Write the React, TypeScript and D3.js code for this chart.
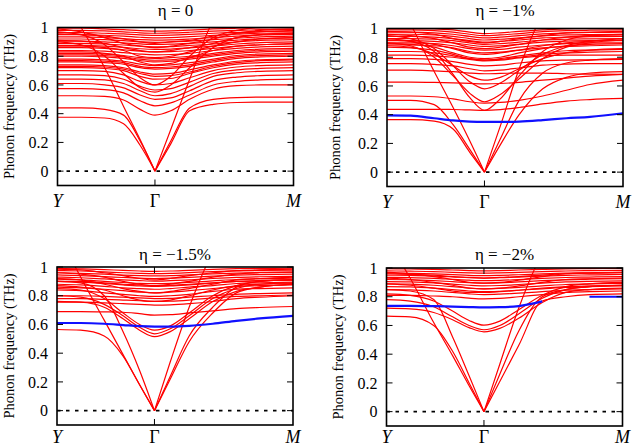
import React from "react";
import * as d3 from "d3";

// k-path sample points (Y = 0, Γ = 0.413, M = 1)
const K = [0, 0.1, 0.2, 0.28, 0.35, 0.413, 0.48, 0.56, 0.66, 0.76, 0.86, 1];
const GAMMA_INDEX = 5;
const X_LABELS = ["Y", "Γ", "M"];
const X_LABEL_K = [0, 0.413, 1];
const Y_TICKS = [0, 0.2, 0.4, 0.6, 0.8, 1];
const TITLES = ["η = 0", "η = −1%", "η = −1.5%", "η = −2%"];
const Y_TITLE = "Phonon frequency (THz)";

const BANDS_0: number[][] = [
  [0.375, 0.375, 0.37, 0.33, 0.18, 0, 0.19, 0.42, 0.465, 0.478, 0.48, 0.48],
  [0.44, 0.44, 0.43, 0.39, 0.21, 0, 0.21, 0.44, 0.5, 0.512, 0.515, 0.515],
  [1.3, 1.0, 0.72, 0.45, 0.22, 0, 0.29, 0.64, 1.05, 1.2, 1.3, 1.4],
  [0.525, 0.525, 0.52, 0.495, 0.43, 0.39, 0.42, 0.5, 0.57, 0.595, 0.6, 0.6],
  [0.575, 0.575, 0.568, 0.545, 0.49, 0.455, 0.475, 0.53, 0.6, 0.625, 0.635, 0.64],
  [0.61, 0.61, 0.6, 0.58, 0.53, 0.5, 0.51, 0.56, 0.63, 0.655, 0.665, 0.67],
  [0.64, 0.64, 0.635, 0.61, 0.56, 0.525, 0.54, 0.59, 0.66, 0.685, 0.695, 0.7],
  [0.67, 0.67, 0.665, 0.64, 0.59, 0.565, 0.575, 0.62, 0.68, 0.705, 0.715, 0.72],
  [0.7, 0.7, 0.695, 0.67, 0.625, 0.6, 0.61, 0.65, 0.7, 0.725, 0.735, 0.74],
  [0.72, 0.72, 0.715, 0.7, 0.66, 0.64, 0.645, 0.68, 0.72, 0.745, 0.755, 0.76],
  [0.73, 0.73, 0.725, 0.71, 0.68, 0.66, 0.665, 0.69, 0.73, 0.755, 0.77, 0.775],
  [0.74, 0.74, 0.735, 0.72, 0.69, 0.675, 0.68, 0.705, 0.74, 0.765, 0.775, 0.78],
  [0.76, 0.76, 0.755, 0.745, 0.72, 0.71, 0.715, 0.73, 0.76, 0.785, 0.795, 0.8],
  [0.77, 0.77, 0.765, 0.755, 0.73, 0.72, 0.725, 0.74, 0.77, 0.795, 0.805, 0.81],
  [0.78, 0.78, 0.775, 0.765, 0.745, 0.735, 0.74, 0.755, 0.78, 0.805, 0.815, 0.82],
  [0.8, 0.8, 0.795, 0.785, 0.77, 0.76, 0.765, 0.78, 0.8, 0.82, 0.83, 0.835],
  [0.81, 0.81, 0.805, 0.795, 0.78, 0.772, 0.775, 0.79, 0.81, 0.83, 0.84, 0.845],
  [0.82, 0.82, 0.815, 0.805, 0.79, 0.785, 0.79, 0.8, 0.82, 0.84, 0.85, 0.855],
  [0.83, 0.83, 0.82, 0.8, 0.76, 0.74, 0.75, 0.79, 0.84, 0.87, 0.88, 0.89],
  [0.84, 0.84, 0.835, 0.825, 0.815, 0.81, 0.812, 0.82, 0.84, 0.855, 0.865, 0.87],
  [0.86, 0.86, 0.855, 0.845, 0.835, 0.83, 0.832, 0.84, 0.855, 0.87, 0.88, 0.885],
  [0.87, 0.87, 0.86, 0.84, 0.8, 0.79, 0.8, 0.83, 0.87, 0.9, 0.92, 0.93],
  [0.875, 0.875, 0.87, 0.862, 0.852, 0.848, 0.85, 0.858, 0.87, 0.885, 0.895, 0.9],
  [0.89, 0.89, 0.885, 0.878, 0.87, 0.865, 0.867, 0.875, 0.885, 0.9, 0.91, 0.915],
  [0.905, 0.905, 0.9, 0.893, 0.886, 0.882, 0.884, 0.89, 0.9, 0.912, 0.922, 0.928],
  [0.91, 0.905, 0.89, 0.86, 0.84, 0.83, 0.84, 0.86, 0.89, 0.93, 0.95, 0.96],
  [0.92, 0.92, 0.915, 0.908, 0.9, 0.897, 0.9, 0.905, 0.915, 0.925, 0.935, 0.94],
  [0.935, 0.935, 0.93, 0.923, 0.915, 0.912, 0.914, 0.92, 0.93, 0.94, 0.948, 0.952],
  [0.95, 0.95, 0.946, 0.94, 0.932, 0.928, 0.93, 0.936, 0.945, 0.953, 0.96, 0.963],
  [0.955, 0.95, 0.94, 0.92, 0.9, 0.89, 0.9, 0.91, 0.94, 0.96, 0.97, 0.98],
  [0.965, 0.965, 0.96, 0.955, 0.948, 0.945, 0.947, 0.952, 0.96, 0.966, 0.972, 0.975],
  [0.98, 0.98, 0.976, 0.97, 0.963, 0.96, 0.962, 0.967, 0.975, 0.98, 0.985, 0.987],
  [0.99, 0.97, 0.93, 0.89, 0.87, 0.86, 0.87, 0.89, 0.92, 0.96, 0.98, 0.99],
  [0.995, 0.995, 0.99, 0.985, 0.978, 0.975, 0.977, 0.982, 0.99, 0.995, 0.998, 1.0],
  [0.9, 0.88, 0.8, 0.68, 0.58, 0.55, 0.6, 0.72, 0.86, 0.93, 0.95, 0.96],
  [0.97, 0.95, 0.88, 0.76, 0.65, 0.6, 0.66, 0.8, 0.93, 0.98, 1.0, 1.0],
];
const BLUE_0: (number | null)[] | null = null;

const BANDS_1: number[][] = [
  [0.365, 0.365, 0.355, 0.3, 0.14, 0, 0.19, 0.4, 0.58, 0.66, 0.69, 0.7],
  [0.5, 0.5, 0.47, 0.33, 0.16, 0, 0.23, 0.5, 0.69, 0.76, 0.78, 0.79],
  [1.3, 1.03, 0.7, 0.45, 0.22, 0, 0.32, 0.72, 1.1, 1.3, 1.4, 1.5],
  [0.437, 0.437, 0.437, 0.436, 0.433, 0.43, 0.435, 0.45, 0.475, 0.495, 0.505, 0.513],
  [0.53, 0.53, 0.525, 0.51, 0.49, 0.48, 0.485, 0.5, 0.53, 0.57, 0.61, 0.64],
  [0.627, 0.627, 0.625, 0.622, 0.618, 0.615, 0.617, 0.625, 0.64, 0.655, 0.668, 0.68],
  [0.93, 0.91, 0.84, 0.68, 0.52, 0.43, 0.51, 0.67, 0.84, 0.92, 0.95, 0.96],
  [0.9, 0.88, 0.8, 0.67, 0.55, 0.49, 0.54, 0.65, 0.79, 0.87, 0.9, 0.92],
  [0.95, 0.93, 0.86, 0.74, 0.63, 0.58, 0.62, 0.71, 0.82, 0.88, 0.91, 0.93],
  [0.88, 0.87, 0.82, 0.74, 0.67, 0.64, 0.66, 0.72, 0.79, 0.83, 0.85, 0.86],
  [0.71, 0.71, 0.705, 0.7, 0.69, 0.685, 0.687, 0.69, 0.69, 0.685, 0.682, 0.68],
  [0.755, 0.755, 0.75, 0.74, 0.72, 0.705, 0.71, 0.725, 0.745, 0.752, 0.755, 0.755],
  [0.79, 0.79, 0.785, 0.77, 0.75, 0.74, 0.745, 0.76, 0.775, 0.78, 0.782, 0.785],
  [0.815, 0.815, 0.81, 0.8, 0.785, 0.775, 0.78, 0.795, 0.81, 0.815, 0.815, 0.815],
  [0.84, 0.84, 0.83, 0.81, 0.79, 0.78, 0.785, 0.8, 0.82, 0.83, 0.835, 0.84],
  [0.87, 0.865, 0.85, 0.82, 0.79, 0.78, 0.79, 0.81, 0.83, 0.845, 0.85, 0.855],
  [0.885, 0.885, 0.88, 0.865, 0.84, 0.83, 0.835, 0.85, 0.865, 0.875, 0.88, 0.885],
  [0.895, 0.89, 0.87, 0.83, 0.8, 0.79, 0.8, 0.83, 0.86, 0.88, 0.89, 0.895],
  [0.9, 0.9, 0.895, 0.88, 0.86, 0.85, 0.855, 0.87, 0.885, 0.895, 0.9, 0.9],
  [0.915, 0.915, 0.91, 0.9, 0.885, 0.875, 0.88, 0.89, 0.905, 0.912, 0.915, 0.915],
  [0.92, 0.91, 0.89, 0.86, 0.83, 0.82, 0.83, 0.85, 0.88, 0.9, 0.91, 0.92],
  [0.93, 0.93, 0.925, 0.915, 0.9, 0.89, 0.895, 0.905, 0.92, 0.925, 0.928, 0.93],
  [0.945, 0.945, 0.94, 0.93, 0.915, 0.905, 0.91, 0.92, 0.935, 0.94, 0.943, 0.945],
  [0.96, 0.95, 0.93, 0.9, 0.87, 0.86, 0.87, 0.89, 0.92, 0.94, 0.95, 0.955],
  [0.96, 0.96, 0.955, 0.945, 0.93, 0.92, 0.925, 0.935, 0.948, 0.955, 0.958, 0.96],
  [0.975, 0.975, 0.97, 0.96, 0.945, 0.935, 0.94, 0.95, 0.962, 0.97, 0.972, 0.975],
  [0.98, 0.975, 0.96, 0.93, 0.91, 0.9, 0.91, 0.93, 0.95, 0.97, 0.975, 0.98],
  [0.99, 0.99, 0.985, 0.975, 0.96, 0.95, 0.955, 0.965, 0.978, 0.985, 0.988, 0.99],
  [1.0, 1.0, 0.998, 0.99, 0.975, 0.965, 0.97, 0.98, 0.99, 0.998, 1.0, 1.0],
];
const BLUE_1: (number | null)[] = [0.395, 0.393, 0.375, 0.36, 0.352, 0.35, 0.35, 0.352, 0.362, 0.375, 0.385, 0.41];

const BANDS_2: number[][] = [
  [0.565, 0.56, 0.52, 0.38, 0.18, 0, 0.22, 0.48, 0.68, 0.82, 0.86, 0.88],
  [0.9, 0.89, 0.8, 0.55, 0.28, 0, 0.24, 0.52, 0.72, 0.86, 0.9, 0.91],
  [1.25, 0.93, 0.63, 0.39, 0.18, 0, 0.34, 0.72, 1.1, 1.3, 1.4, 1.5],
  [0.69, 0.69, 0.688, 0.685, 0.675, 0.665, 0.668, 0.68, 0.695, 0.71, 0.718, 0.725],
  [0.76, 0.755, 0.72, 0.64, 0.56, 0.515, 0.55, 0.64, 0.76, 0.83, 0.86, 0.88],
  [0.8, 0.79, 0.74, 0.66, 0.58, 0.535, 0.57, 0.66, 0.78, 0.85, 0.88, 0.89],
  [0.85, 0.84, 0.78, 0.68, 0.6, 0.56, 0.59, 0.68, 0.8, 0.87, 0.9, 0.91],
  [0.755, 0.755, 0.75, 0.745, 0.74, 0.735, 0.737, 0.745, 0.76, 0.78, 0.79, 0.8],
  [0.78, 0.78, 0.775, 0.77, 0.765, 0.76, 0.762, 0.77, 0.785, 0.795, 0.8, 0.805],
  [0.8, 0.8, 0.795, 0.79, 0.785, 0.78, 0.782, 0.79, 0.8, 0.81, 0.815, 0.82],
  [0.84, 0.835, 0.82, 0.81, 0.8, 0.795, 0.8, 0.81, 0.83, 0.845, 0.85, 0.855],
  [0.86, 0.855, 0.845, 0.835, 0.825, 0.82, 0.825, 0.835, 0.85, 0.865, 0.87, 0.875],
  [0.87, 0.86, 0.84, 0.8, 0.77, 0.76, 0.77, 0.8, 0.84, 0.87, 0.88, 0.885],
  [0.88, 0.875, 0.865, 0.855, 0.85, 0.845, 0.85, 0.86, 0.87, 0.885, 0.89, 0.895],
  [0.9, 0.895, 0.885, 0.875, 0.868, 0.865, 0.868, 0.876, 0.888, 0.9, 0.905, 0.91],
  [0.9, 0.9, 0.89, 0.88, 0.875, 0.87, 0.872, 0.88, 0.89, 0.9, 0.905, 0.91],
  [0.915, 0.91, 0.9, 0.892, 0.886, 0.884, 0.886, 0.893, 0.903, 0.913, 0.918, 0.922],
  [0.92, 0.91, 0.88, 0.85, 0.83, 0.82, 0.83, 0.85, 0.88, 0.91, 0.92, 0.93],
  [0.93, 0.925, 0.917, 0.91, 0.905, 0.902, 0.905, 0.91, 0.92, 0.928, 0.932, 0.935],
  [0.945, 0.94, 0.933, 0.927, 0.922, 0.92, 0.922, 0.928, 0.936, 0.943, 0.947, 0.95],
  [0.96, 0.95, 0.93, 0.9, 0.88, 0.87, 0.88, 0.9, 0.93, 0.95, 0.96, 0.965],
  [0.96, 0.956, 0.95, 0.944, 0.94, 0.938, 0.94, 0.945, 0.952, 0.958, 0.962, 0.965],
  [0.975, 0.972, 0.966, 0.96, 0.956, 0.954, 0.956, 0.961, 0.968, 0.973, 0.976, 0.978],
  [0.985, 0.98, 0.96, 0.94, 0.92, 0.91, 0.92, 0.94, 0.96, 0.975, 0.98, 0.985],
  [0.99, 0.987, 0.982, 0.976, 0.972, 0.97, 0.972, 0.977, 0.983, 0.988, 0.99, 0.992],
];
const BLUE_2: (number | null)[] = [0.61, 0.61, 0.605, 0.596, 0.588, 0.585, 0.585, 0.59, 0.605, 0.625, 0.642, 0.66];

const BANDS_3: number[][] = [
  [0.665, 0.66, 0.6, 0.42, 0.2, 0, 0.21, 0.46, 0.77, 0.8, 0.815, 0.82],
  [0.85, 0.84, 0.78, 0.52, 0.25, 0, 0.26, 0.56, 0.8, 0.85, 0.87, 0.88],
  [1.2, 0.93, 0.62, 0.39, 0.18, 0, 0.33, 0.72, 1.1, 1.3, 1.4, 1.5],
  [0.72, 0.715, 0.69, 0.64, 0.585, 0.556, 0.58, 0.65, 0.76, 0.83, 0.85, 0.86],
  [0.78, 0.77, 0.73, 0.66, 0.6, 0.57, 0.6, 0.68, 0.79, 0.85, 0.87, 0.88],
  [0.82, 0.81, 0.77, 0.7, 0.635, 0.602, 0.63, 0.71, 0.81, 0.87, 0.89, 0.9],
  [0.81, 0.81, 0.805, 0.8, 0.79, 0.785, 0.788, 0.8, 0.815, 0.83, 0.835, 0.84],
  [0.85, 0.848, 0.84, 0.83, 0.82, 0.815, 0.818, 0.825, 0.835, 0.845, 0.85, 0.855],
  [0.87, 0.868, 0.86, 0.85, 0.84, 0.835, 0.838, 0.845, 0.855, 0.865, 0.87, 0.875],
  [0.89, 0.88, 0.86, 0.84, 0.83, 0.83, 0.835, 0.845, 0.86, 0.87, 0.875, 0.88],
  [0.89, 0.888, 0.88, 0.87, 0.86, 0.855, 0.858, 0.865, 0.875, 0.885, 0.89, 0.893],
  [0.905, 0.903, 0.897, 0.888, 0.88, 0.876, 0.878, 0.885, 0.895, 0.903, 0.907, 0.91],
  [0.92, 0.918, 0.912, 0.905, 0.898, 0.895, 0.897, 0.903, 0.912, 0.918, 0.922, 0.925],
  [0.93, 0.92, 0.9, 0.88, 0.86, 0.855, 0.86, 0.875, 0.9, 0.92, 0.925, 0.93],
  [0.935, 0.933, 0.928, 0.921, 0.915, 0.912, 0.914, 0.92, 0.928, 0.934, 0.937, 0.94],
  [0.95, 0.948, 0.944, 0.938, 0.932, 0.93, 0.932, 0.937, 0.944, 0.949, 0.952, 0.955],
  [0.96, 0.955, 0.95, 0.94, 0.935, 0.93, 0.935, 0.94, 0.95, 0.96, 0.965, 0.967],
  [0.965, 0.963, 0.959, 0.954, 0.949, 0.947, 0.949, 0.953, 0.959, 0.964, 0.967, 0.97],
  [0.97, 0.96, 0.94, 0.92, 0.9, 0.895, 0.9, 0.915, 0.94, 0.96, 0.965, 0.97],
  [0.98, 0.978, 0.975, 0.97, 0.966, 0.964, 0.966, 0.97, 0.975, 0.979, 0.982, 0.984],
  [0.995, 0.993, 0.99, 0.986, 0.982, 0.98, 0.982, 0.986, 0.99, 0.994, 0.996, 0.998],
];
const BLUE_3: (number | null)[] = [0.736, 0.736, 0.734, 0.731, 0.728, 0.726, 0.727, 0.735, 0.768, null, 0.8, 0.8];

const PANEL_BANDS = [BANDS_0, BANDS_1, BANDS_2, BANDS_3];
const PANEL_BLUE = [BLUE_0, BLUE_1, BLUE_2, BLUE_3];

// layout (pixels)
const W = 236;
const H = 158;
const LAYOUT = [
  { left: 57.5, top: 27.5, titleY: 16, yTitleX: 8.5, labelY: 207 },
  { left: 387, top: 28.5, titleY: 16, yTitleX: 334.5, labelY: 208 },
  { left: 57, top: 267, titleY: 259.5, yTitleX: 9, labelY: 443 },
  { left: 386.5, top: 268, titleY: 259.5, yTitleX: 338, labelY: 443 },
];
const FONT = "Liberation Serif, DejaVu Serif, serif";

type Pt = [number, number | null];

function Panel({ idx }: { idx: number }) {
  const L = LAYOUT[idx];
  const bands = PANEL_BANDS[idx];
  const blue = PANEL_BLUE[idx];
  const x = d3.scaleLinear().domain([0, 1]).range([L.left, L.left + W]);
  const y = d3.scaleLinear().domain([-0.1, 1]).range([L.top + H, L.top]);
  const line = d3
    .line<Pt>()
    .defined((d) => d[1] != null)
    .x((d) => x(d[0]))
    .y((d) => y(d[1] as number))
    .curve(d3.curveMonotoneX);

  const redPaths: string[] = [];
  bands.forEach((b) => {
    const pts: Pt[] = K.map((k, i) => [k, b[i]]);
    if (b[GAMMA_INDEX] === 0) {
      redPaths.push(line(pts.slice(0, GAMMA_INDEX + 1)) || "");
      redPaths.push(line(pts.slice(GAMMA_INDEX)) || "");
    } else {
      redPaths.push(line(pts) || "");
    }
  });
  const bluePath = blue ? line(K.map((k, i) => [k, blue[i]] as Pt)) || "" : "";
  const clipId = `clip-${idx}`;
  const x0 = L.left;
  const x1 = L.left + W;
  const yTop = L.top;
  const yBot = L.top + H;
  const gx = x(X_LABEL_K[1]);

  return (
    <g>
      <defs>
        <clipPath id={clipId}>
          <rect x={x0} y={yTop} width={W} height={H} />
        </clipPath>
      </defs>
      <g clipPath={`url(#${clipId})`}>
        {redPaths.map((d, i) => (
          <path key={i} d={d} fill="none" stroke="#ff0000" strokeWidth={1.2} />
        ))}
        {bluePath && <path d={bluePath} fill="none" stroke="#1010ff" strokeWidth={2.2} />}
        <line x1={x0} x2={x1} y1={y(0)} y2={y(0)} stroke="#000" strokeWidth={1.6} strokeDasharray="3.5,5.5" />
      </g>
      {Y_TICKS.map((t) => (
        <g key={t}>
          <line x1={x0} x2={x0 + 6} y1={y(t)} y2={y(t)} stroke="#000" strokeWidth={1} />
          <line x1={x1 - 6} x2={x1} y1={y(t)} y2={y(t)} stroke="#000" strokeWidth={1} />
          <text x={x0 - 9} y={y(t)} dy="0.35em" textAnchor="end" style={{ fontFamily: FONT }} fontSize={16}>
            {String(t)}
          </text>
        </g>
      ))}
      <line x1={gx} x2={gx} y1={yBot} y2={yBot - 6} stroke="#000" strokeWidth={1} />
      <line x1={gx} x2={gx} y1={yTop} y2={yTop + 6} stroke="#000" strokeWidth={1} />
      <rect x={x0} y={yTop} width={W} height={H} fill="none" stroke="#000" strokeWidth={1.6} />
      {X_LABELS.map((lab, i) => (
        <text
          key={lab}
          x={x(X_LABEL_K[i])}
          y={L.labelY}
          textAnchor="middle"
          style={{ fontFamily: FONT }}
          fontSize={18}
          fontStyle={lab === "Γ" ? "normal" : "italic"}
        >
          {lab}
        </text>
      ))}
      <text x={(x0 + x1) / 2} y={L.titleY} textAnchor="middle" style={{ fontFamily: FONT }} fontSize={17}>
        {TITLES[idx]}
      </text>
      <text
        transform={`translate(${L.yTitleX},${(yTop + yBot) / 2}) rotate(-90)`}
        dy="0.35em"
        textAnchor="middle"
        style={{ fontFamily: FONT }}
        fontSize={14.5}
      >
        {Y_TITLE}
      </text>
    </g>
  );
}

export default function App() {
  return (
    <svg
      width={634}
      height={447}
      style={{ position: "absolute", left: 0, top: 0, background: "#fff" }}
    >
      <rect width={634} height={447} fill="#fff" />
      {[0, 1, 2, 3].map((i) => (
        <Panel key={i} idx={i} />
      ))}
    </svg>
  );
}
